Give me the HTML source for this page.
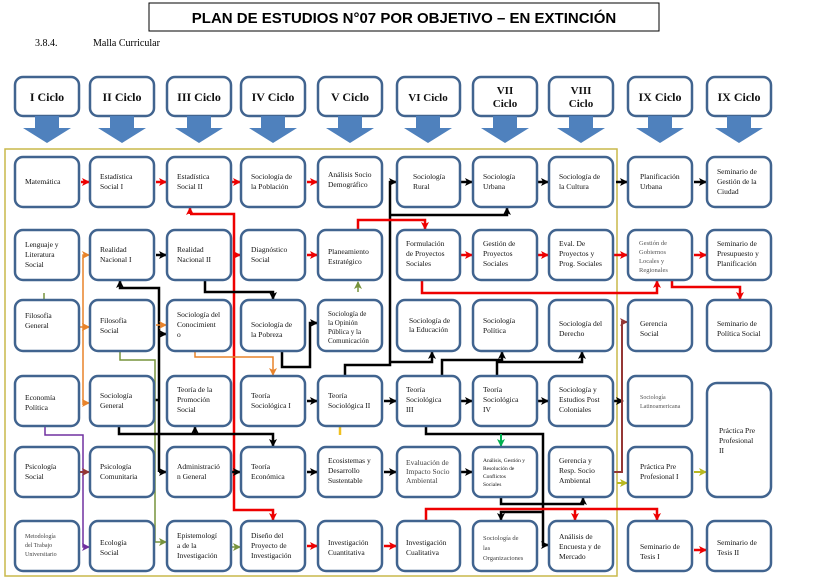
<!DOCTYPE html>
<html><head><meta charset="utf-8"><style>
body{margin:0;background:#fff;width:819px;height:578px;overflow:hidden}
svg{display:block}
.b{fill:#fff;stroke:#41648f;stroke-width:2.5}
.t{font-family:"Liberation Serif",serif;font-size:7.5px;fill:#111}
.h{font-family:"Liberation Serif",serif;font-size:12px;font-weight:bold;fill:#111;text-anchor:middle}
.ar{fill:#4f81bd}
.k{stroke:#000;stroke-width:2.5;fill:none}
.r{stroke:#e00;stroke-width:2.5;fill:none}
.o{stroke:#e8832a;stroke-width:1.5;fill:none}
.g{stroke:#77933c;stroke-width:1.5;fill:none}
.p{stroke:#7030a0;stroke-width:1.5;fill:none}
.br{stroke:#953735;stroke-width:2;fill:none}
</style></head><body>
<svg width="819" height="578" viewBox="0 0 819 578">
<defs>
<marker id="mk" markerWidth="8" markerHeight="8" refX="7" refY="4" orient="auto" markerUnits="userSpaceOnUse"><path d="M0,0 L8,4 L0,8 L2,4z" fill="#000"/></marker>
<marker id="mr" markerWidth="8" markerHeight="8" refX="7" refY="4" orient="auto" markerUnits="userSpaceOnUse"><path d="M0,0 L8,4 L0,8 L2,4z" fill="#e00"/></marker>
<marker id="mo" markerWidth="8" markerHeight="8" refX="7" refY="4" orient="auto" markerUnits="userSpaceOnUse"><path d="M0,0 L8,4 L0,8 L2,4z" fill="#e8832a"/></marker>
<marker id="mg" markerWidth="8" markerHeight="8" refX="7" refY="4" orient="auto" markerUnits="userSpaceOnUse"><path d="M0,0 L8,4 L0,8 L2,4z" fill="#77933c"/></marker>
<marker id="mp" markerWidth="8" markerHeight="8" refX="7" refY="4" orient="auto" markerUnits="userSpaceOnUse"><path d="M0,0 L8,4 L0,8 L2,4z" fill="#7030a0"/></marker>
<marker id="mb" markerWidth="8" markerHeight="8" refX="7" refY="4" orient="auto" markerUnits="userSpaceOnUse"><path d="M0,0 L8,4 L0,8 L2,4z" fill="#953735"/></marker>
<marker id="my" markerWidth="8" markerHeight="8" refX="7" refY="4" orient="auto" markerUnits="userSpaceOnUse"><path d="M0,0 L8,4 L0,8 L2,4z" fill="#b8b820"/></marker>
<marker id="mgr" markerWidth="8" markerHeight="8" refX="7" refY="4" orient="auto" markerUnits="userSpaceOnUse"><path d="M0,0 L8,4 L0,8 L2,4z" fill="#00b050"/></marker>
</defs>

<rect x="149" y="3" width="510" height="28" fill="#fff" stroke="#000" stroke-width="1"/>
<text x="404" y="23" text-anchor="middle" style="font-family:'Liberation Sans',sans-serif;font-size:15px;font-weight:bold">PLAN DE ESTUDIOS N°07 POR OBJETIVO – EN EXTINCIÓN</text>
<text x="35" y="46" style="font-family:'Liberation Serif',serif;font-size:10px">3.8.4.</text>
<text x="93" y="46" style="font-family:'Liberation Serif',serif;font-size:10px">Malla Curricular</text>

<!-- headers -->
<g>
<rect class="b" x="15" y="77" width="64" height="39" rx="8"/><path class="ar" d="M35,116h24v12h12l-24,15l-24,-15h12z"/><text class="h" x="47" y="101">I  Ciclo</text>
<rect class="b" x="90" y="77" width="64" height="39" rx="8"/><path class="ar" d="M110,116h24v12h12l-24,15l-24,-15h12z"/><text class="h" x="122" y="101">II  Ciclo</text>
<rect class="b" x="167" y="77" width="64" height="39" rx="8"/><path class="ar" d="M187,116h24v12h12l-24,15l-24,-15h12z"/><text class="h" x="199" y="101">III  Ciclo</text>
<rect class="b" x="241" y="77" width="64" height="39" rx="8"/><path class="ar" d="M261,116h24v12h12l-24,15l-24,-15h12z"/><text class="h" x="273" y="101">IV  Ciclo</text>
<rect class="b" x="318" y="77" width="64" height="39" rx="8"/><path class="ar" d="M338,116h24v12h12l-24,15l-24,-15h12z"/><text class="h" x="350" y="101">V Ciclo</text>
<rect class="b" x="397" y="77" width="63" height="39" rx="8"/><path class="ar" d="M416,116h24v12h12l-24,15l-24,-15h12z"/><text class="h" x="428" y="101" style="font-size:11px">VI  Ciclo</text>
<rect class="b" x="473" y="77" width="64" height="39" rx="8"/><path class="ar" d="M493,116h24v12h12l-24,15l-24,-15h12z"/><text class="h" x="505" y="94" style="font-size:11px">VII</text><text class="h" x="505" y="107" style="font-size:11px">Ciclo</text>
<rect class="b" x="549" y="77" width="64" height="39" rx="8"/><path class="ar" d="M569,116h24v12h12l-24,15l-24,-15h12z"/><text class="h" x="581" y="94" style="font-size:11px">VIII</text><text class="h" x="581" y="107" style="font-size:11px">Ciclo</text>
<rect class="b" x="628" y="77" width="64" height="39" rx="8"/><path class="ar" d="M648,116h24v12h12l-24,15l-24,-15h12z"/><text class="h" x="660" y="101">IX Ciclo</text>
<rect class="b" x="707" y="77" width="64" height="39" rx="8"/><path class="ar" d="M727,116h24v12h12l-24,15l-24,-15h12z"/><text class="h" x="739" y="101">IX Ciclo</text>
</g>

<rect x="5" y="149" width="612" height="427" fill="none" stroke="#c8b84a" stroke-width="1.5"/>

<!-- connectors -->
<g>
<!-- row1 -->
<path class="r" d="M81,182h8" marker-end="url(#mr)"/><path class="r" d="M156,182h10" marker-end="url(#mr)"/><path class="r" d="M232,182h8" marker-end="url(#mr)"/><path class="r" d="M307,182h10" marker-end="url(#mr)"/>
<path class="k" d="M461,182h11" marker-end="url(#mk)"/><path class="k" d="M538,182h10" marker-end="url(#mk)"/><path class="k" d="M616,182h11" marker-end="url(#mk)"/><path class="k" d="M694,182h12" marker-end="url(#mk)"/>
<path class="k" d="M345,376V365H390V182h6" marker-end="url(#mk)"/>
<path class="k" d="M390,215H507V208" marker-end="url(#mk)"/>
<path class="r" d="M358,230V220H425v9" marker-end="url(#mr)"/>
<path class="r" d="M190,214v-6" marker-end="url(#mr)"/>
<path class="r" d="M190,214H234V510H273v10" marker-end="url(#mr)"/>
<path class="r" d="M234,255h6" marker-end="url(#mr)"/>
<!-- row2 -->
<path class="o" d="M83,405V255h6" marker-end="url(#mo)"/><path class="o" d="M83,327h6" marker-end="url(#mo)"/><path class="o" d="M83,403h6" marker-end="url(#mo)"/>
<path class="k" d="M156,255h10" marker-end="url(#mk)"/>
<path class="r" d="M307,255h10" marker-end="url(#mr)"/><path class="r" d="M461,255h11" marker-end="url(#mr)"/><path class="r" d="M538,255h10" marker-end="url(#mr)"/><path class="r" d="M614,255h13" marker-end="url(#mr)"/><path class="r" d="M694,255h12" marker-end="url(#mr)"/>
<path class="r" d="M422,281V293H657v-12" marker-end="url(#mr)"/>
<path class="r" d="M672,281V287H740v12" marker-end="url(#mr)"/>
<path class="g" d="M358,292v-10" marker-end="url(#mg)"/>
<path class="k" d="M205,281V292H273v7" marker-end="url(#mk)"/>
<path class="k" d="M159,472V288H120v-7" marker-end="url(#mk)"/>
<path class="k" d="M159,472h7" marker-end="url(#mk)"/><path class="k" d="M159,334h7" marker-end="url(#mk)"/><path class="k" d="M152,400h7"/>
<path class="g" d="M44,293v7"/>
<!-- row3 -->
<path class="o" d="M80,327h9" marker-end="url(#mo)"/><path class="o" d="M156,325h10" marker-end="url(#mo)"/>
<path class="o" d="M195,351V357H273v18" marker-end="url(#mo)"/>
<path class="k" d="M282,351V367H310V323h7" marker-end="url(#mk)"/>
<path class="g" d="M120,351V360H155V542h11" marker-end="url(#mg)"/>
<path class="g" d="M232,547h8" marker-end="url(#mg)"/>
<!-- row4 -->
<path class="k" d="M307,401h10" marker-end="url(#mk)"/><path class="k" d="M384,401h12" marker-end="url(#mk)"/><path class="k" d="M461,401h11" marker-end="url(#mk)"/><path class="k" d="M538,401h10" marker-end="url(#mk)"/><path class="k" d="M614,401h9" marker-end="url(#mk)"/>
<path class="k" d="M119,427V434H273v12" marker-end="url(#mk)"/>
<path class="k" d="M195,434v-7" marker-end="url(#mk)"/>
<path class="k" d="M390,362H432v-10" marker-end="url(#mk)"/>
<path class="k" d="M442,376V360H502v-8" marker-end="url(#mk)"/>
<path class="k" d="M497,376V362H582v-10" marker-end="url(#mk)"/>
<path class="k" d="M426,427V434H543V545h5" marker-end="url(#mk)"/>
<path class="p" d="M45,427V435H83V547h6" marker-end="url(#mp)"/>
<path class="br" d="M80,472h9" marker-end="url(#mb)"/>
<path d="M501,434v12" stroke="#00b050" stroke-width="2" marker-end="url(#mgr)"/>
<path d="M340,424v11" stroke="#f0c020" stroke-width="2.5"/>
<!-- row5 -->
<path class="k" d="M232,472h8" marker-end="url(#mk)"/><path class="k" d="M307,472h10" marker-end="url(#mk)"/><path class="k" d="M384,472h12" marker-end="url(#mk)"/><path class="k" d="M461,472h11" marker-end="url(#mk)"/>
<path class="k" d="M501,497V504H583v-6" marker-end="url(#mk)"/>
<path class="k" d="M543,512H501v8" marker-end="url(#mk)"/>
<path class="br" d="M614,472H622V322h5" marker-end="url(#mb)"/>
<path d="M617,483h10" stroke="#b8b820" stroke-width="2" marker-end="url(#my)"/>
<path d="M694,472h12" stroke="#b8b820" stroke-width="2" marker-end="url(#my)"/>
<path class="r" d="M426,521V509H657v11" marker-end="url(#mr)"/>
<path class="r" d="M575,509v11" marker-end="url(#mr)"/>
<!-- row6 -->
<path class="r" d="M307,546h10" marker-end="url(#mr)"/><path class="r" d="M384,546h12" marker-end="url(#mr)"/><path class="r" d="M694,550h12" marker-end="url(#mr)"/>
</g>

<!-- boxes -->
<g>
<rect class="b" x="15" y="157" width="64" height="50" rx="8"/><rect class="b" x="90" y="157" width="64" height="50" rx="8"/><rect class="b" x="167" y="157" width="64" height="50" rx="8"/><rect class="b" x="241" y="157" width="64" height="50" rx="8"/><rect class="b" x="318" y="157" width="64" height="50" rx="8"/><rect class="b" x="397" y="157" width="63" height="50" rx="8"/><rect class="b" x="473" y="157" width="64" height="50" rx="8"/><rect class="b" x="549" y="157" width="64" height="50" rx="8"/><rect class="b" x="628" y="157" width="64" height="50" rx="8"/><rect class="b" x="707" y="157" width="64" height="50" rx="8"/>
<rect class="b" x="15" y="230" width="64" height="50" rx="8"/><rect class="b" x="90" y="230" width="64" height="50" rx="8"/><rect class="b" x="167" y="230" width="64" height="50" rx="8"/><rect class="b" x="241" y="230" width="64" height="50" rx="8"/><rect class="b" x="318" y="230" width="64" height="50" rx="8"/><rect class="b" x="397" y="230" width="63" height="50" rx="8"/><rect class="b" x="473" y="230" width="64" height="50" rx="8"/><rect class="b" x="549" y="230" width="64" height="50" rx="8"/><rect class="b" x="628" y="230" width="64" height="50" rx="8"/><rect class="b" x="707" y="230" width="64" height="50" rx="8"/>
<rect class="b" x="15" y="300" width="64" height="51" rx="8"/><rect class="b" x="90" y="300" width="64" height="51" rx="8"/><rect class="b" x="167" y="300" width="64" height="51" rx="8"/><rect class="b" x="241" y="300" width="64" height="51" rx="8"/><rect class="b" x="318" y="300" width="64" height="51" rx="8"/><rect class="b" x="397" y="300" width="63" height="51" rx="8"/><rect class="b" x="473" y="300" width="64" height="51" rx="8"/><rect class="b" x="549" y="300" width="64" height="51" rx="8"/><rect class="b" x="628" y="300" width="64" height="51" rx="8"/><rect class="b" x="707" y="300" width="64" height="51" rx="8"/>
<rect class="b" x="15" y="376" width="64" height="50" rx="8"/><rect class="b" x="90" y="376" width="64" height="50" rx="8"/><rect class="b" x="167" y="376" width="64" height="50" rx="8"/><rect class="b" x="241" y="376" width="64" height="50" rx="8"/><rect class="b" x="318" y="376" width="64" height="50" rx="8"/><rect class="b" x="397" y="376" width="63" height="50" rx="8"/><rect class="b" x="473" y="376" width="64" height="50" rx="8"/><rect class="b" x="549" y="376" width="64" height="50" rx="8"/><rect class="b" x="628" y="376" width="64" height="50" rx="8"/><rect class="b" x="707" y="383" width="64" height="114" rx="10"/>
<rect class="b" x="15" y="447" width="64" height="50" rx="8"/><rect class="b" x="90" y="447" width="64" height="50" rx="8"/><rect class="b" x="167" y="447" width="64" height="50" rx="8"/><rect class="b" x="241" y="447" width="64" height="50" rx="8"/><rect class="b" x="318" y="447" width="64" height="50" rx="8"/><rect class="b" x="397" y="447" width="63" height="50" rx="8"/><rect class="b" x="473" y="447" width="64" height="50" rx="8"/><rect class="b" x="549" y="447" width="64" height="50" rx="8"/><rect class="b" x="628" y="447" width="64" height="50" rx="8"/>
<rect class="b" x="15" y="521" width="64" height="50" rx="8"/><rect class="b" x="90" y="521" width="64" height="50" rx="8"/><rect class="b" x="167" y="521" width="64" height="50" rx="8"/><rect class="b" x="241" y="521" width="64" height="50" rx="8"/><rect class="b" x="318" y="521" width="64" height="50" rx="8"/><rect class="b" x="397" y="521" width="63" height="50" rx="8"/><rect class="b" x="473" y="521" width="64" height="50" rx="8"/><rect class="b" x="549" y="521" width="64" height="50" rx="8"/><rect class="b" x="628" y="521" width="64" height="50" rx="8"/><rect class="b" x="707" y="521" width="64" height="50" rx="8"/>
</g>

<!-- labels -->
<g class="t">
<!-- row1 -->
<text x="25" y="184">Matemática</text>
<text x="100" y="179">Estadística<tspan x="100" dy="10">Social I</tspan></text>
<text x="177" y="179">Estadística<tspan x="177" dy="10">Social II</tspan></text>
<text x="251" y="179">Sociología de<tspan x="251" dy="10">la Población</tspan></text>
<text x="328" y="177">Análisis Socio<tspan x="328" dy="10">Demográfico</tspan></text>
<text x="413" y="179">Sociología<tspan x="413" dy="10">Rural</tspan></text>
<text x="483" y="179">Sociología<tspan x="483" dy="10">Urbana</tspan></text>
<text x="559" y="179">Sociología de<tspan x="559" dy="10">la Cultura</tspan></text>
<text x="640" y="179">Planificación<tspan x="640" dy="10">Urbana</tspan></text>
<text x="717" y="174">Seminario de<tspan x="717" dy="10">Gestión de la</tspan><tspan x="717" dy="10">Ciudad</tspan></text>
<!-- row2 -->
<text x="25" y="247">Lenguaje y<tspan x="25" dy="10">Literatura</tspan><tspan x="25" dy="10">Social</tspan></text>
<text x="100" y="252">Realidad<tspan x="100" dy="10">Nacional I</tspan></text>
<text x="177" y="252">Realidad<tspan x="177" dy="10">Nacional II</tspan></text>
<text x="251" y="252">Diagnóstico<tspan x="251" dy="10">Social</tspan></text>
<text x="328" y="254">Planeamiento<tspan x="328" dy="10">Estratégico</tspan></text>
<text x="406" y="246">Formulación<tspan x="406" dy="10">de Proyectos</tspan><tspan x="406" dy="10">Sociales</tspan></text>
<text x="483" y="246">Gestión de<tspan x="483" dy="10">Proyectos</tspan><tspan x="483" dy="10">Sociales</tspan></text>
<text x="559" y="246">Eval. De<tspan x="559" dy="10">Proyectos y</tspan><tspan x="559" dy="10">Prog. Sociales</tspan></text>
<text x="639" y="245" style="font-size:6.5px;fill:#555">Gestión de<tspan x="639" dy="9">Gobiernos</tspan><tspan x="639" dy="9">Locales y</tspan><tspan x="639" dy="9">Regionales</tspan></text>
<text x="717" y="246">Seminario de<tspan x="717" dy="10">Presupuesto y</tspan><tspan x="717" dy="10">Planificación</tspan></text>
<!-- row3 -->
<text x="25" y="318">Filosofía<tspan x="25" dy="10">General</tspan></text>
<text x="100" y="323">Filosofía<tspan x="100" dy="10">Social</tspan></text>
<text x="177" y="317">Sociología del<tspan x="177" dy="10">Conocimient</tspan><tspan x="177" dy="10">o</tspan></text>
<text x="251" y="327">Sociología de<tspan x="251" dy="10">la Pobreza</tspan></text>
<text x="328" y="316" style="font-size:7px">Sociología de<tspan x="328" dy="9">la Opinión</tspan><tspan x="328" dy="9">Pública y la</tspan><tspan x="328" dy="9">Comunicación</tspan></text>
<text x="409" y="323">Sociología de<tspan x="409" dy="9">la Educación</tspan></text>
<text x="483" y="323">Sociología<tspan x="483" dy="10">Política</tspan></text>
<text x="559" y="326">Sociología del<tspan x="559" dy="10">Derecho</tspan></text>
<text x="640" y="326">Gerencia<tspan x="640" dy="10">Social</tspan></text>
<text x="717" y="326">Seminario de<tspan x="717" dy="10">Política Social</tspan></text>
<!-- row4 -->
<text x="25" y="400">Economía<tspan x="25" dy="10">Política</tspan></text>
<text x="100" y="398">Sociología<tspan x="100" dy="10">General</tspan></text>
<text x="177" y="392">Teoría de la<tspan x="177" dy="10">Promoción</tspan><tspan x="177" dy="10">Social</tspan></text>
<text x="251" y="398">Teoría<tspan x="251" dy="10">Sociológica I</tspan></text>
<text x="328" y="398">Teoría<tspan x="328" dy="10">Sociológica II</tspan></text>
<text x="406" y="392">Teoría<tspan x="406" dy="10">Sociológica</tspan><tspan x="406" dy="10">III</tspan></text>
<text x="483" y="392">Teoría<tspan x="483" dy="10">Sociológica</tspan><tspan x="483" dy="10">IV</tspan></text>
<text x="559" y="392">Sociología y<tspan x="559" dy="10">Estudios Post</tspan><tspan x="559" dy="10">Coloniales</tspan></text>
<text x="640" y="399" style="font-size:6px;fill:#555">Sociología<tspan x="640" dy="9">Latinoamericana</tspan></text>
<text x="719" y="433">Práctica Pre<tspan x="719" dy="10">Profesional</tspan><tspan x="719" dy="10">II</tspan></text>
<!-- row5 -->
<text x="25" y="469">Psicología<tspan x="25" dy="10">Social</tspan></text>
<text x="100" y="469">Psicología<tspan x="100" dy="10">Comunitaria</tspan></text>
<text x="177" y="469">Administració<tspan x="177" dy="10">n General</tspan></text>
<text x="251" y="469">Teoría<tspan x="251" dy="10">Económica</tspan></text>
<text x="328" y="463">Ecosistemas y<tspan x="328" dy="10">Desarrollo</tspan><tspan x="328" dy="10">Sustentable</tspan></text>
<text x="406" y="465" style="fill:#444">Evaluación de<tspan x="406" dy="9">Impacto Socio</tspan><tspan x="406" dy="9">Ambiental</tspan></text>
<text x="483" y="462" style="font-size:5.5px">Análisis, Gestión y<tspan x="483" dy="8">Resolución de</tspan><tspan x="483" dy="8">Conflictos</tspan><tspan x="483" dy="8">Sociales</tspan></text>
<text x="559" y="463">Gerencia y<tspan x="559" dy="10">Resp. Socio</tspan><tspan x="559" dy="10">Ambiental</tspan></text>
<text x="640" y="469">Práctica Pre<tspan x="640" dy="10">Profesional I</tspan></text>
<!-- row6 -->
<text x="25" y="538" style="font-size:6px;fill:#444">Metodología<tspan x="25" dy="9">del Trabajo</tspan><tspan x="25" dy="9">Universitario</tspan></text>
<text x="100" y="545">Ecología<tspan x="100" dy="10">Social</tspan></text>
<text x="177" y="538">Epistemologí<tspan x="177" dy="10">a de la</tspan><tspan x="177" dy="10">Investigación</tspan></text>
<text x="251" y="538">Diseño del<tspan x="251" dy="10">Proyecto de</tspan><tspan x="251" dy="10">Investigación</tspan></text>
<text x="328" y="545">Investigación<tspan x="328" dy="10">Cuantitativa</tspan></text>
<text x="406" y="545">Investigación<tspan x="406" dy="10">Cualitativa</tspan></text>
<text x="483" y="540" style="font-size:6.5px;fill:#444">Sociología de<tspan x="483" dy="10">las</tspan><tspan x="483" dy="10">Organizaciones</tspan></text>
<text x="559" y="539">Análisis de<tspan x="559" dy="10">Encuesta y de</tspan><tspan x="559" dy="10">Mercado</tspan></text>
<text x="640" y="549">Seminario de<tspan x="640" dy="10">Tesis I</tspan></text>
<text x="717" y="545">Seminario de<tspan x="717" dy="10">Tesis II</tspan></text>
</g>
</svg>
</body></html>
